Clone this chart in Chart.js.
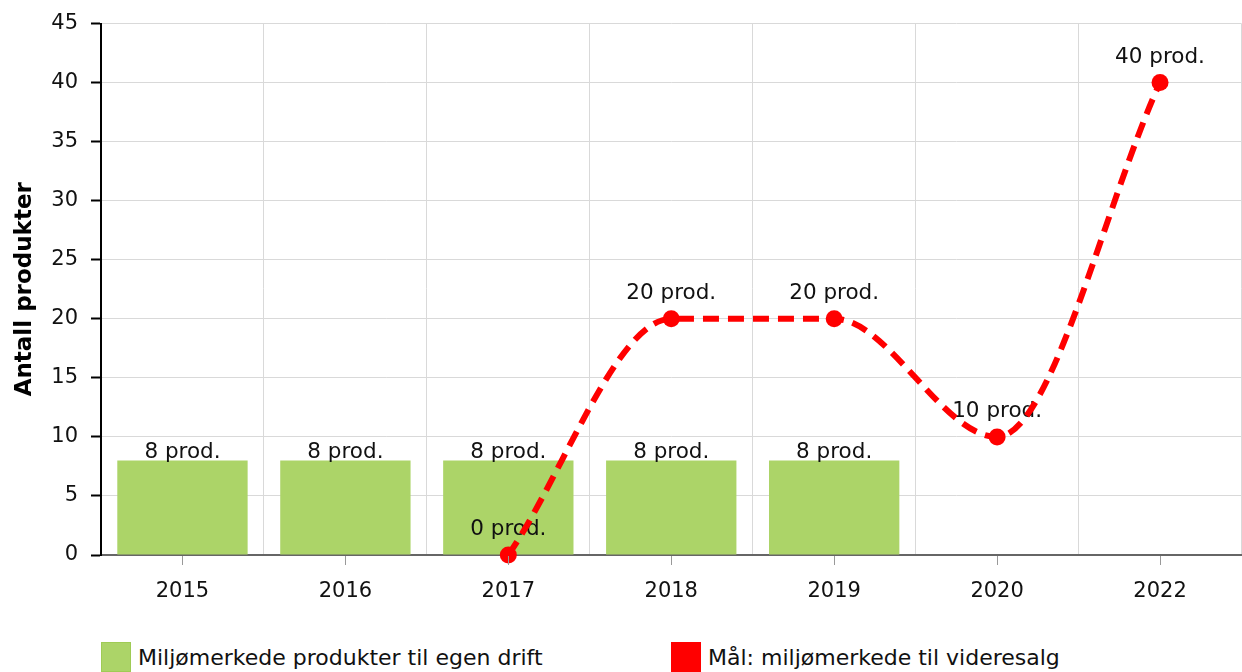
<!DOCTYPE html>
<html>
<head>
<meta charset="utf-8">
<script src="https://cdn.jsdelivr.net/npm/chart.js@4"></script>
<style>
  html, body { margin: 0; padding: 0; background: #fff; overflow: hidden; }
  #wrap { position: relative; width: 1250px; height: 672px; }
  #chart { position: absolute; left: 0; top: 0; }
  #legend { position: absolute; left: 101px; top: 642px; display: flex;
            font-family: 'DejaVu Sans', sans-serif; font-size: 22px; color: #111; }
  .item { display: flex; align-items: center; width: 570px; height: 30px; white-space: nowrap; }
  .box { width: 28px; height: 28px; margin-right: 7px; border: 1px solid; flex: none; }
</style>
</head>
<body>
<div id="wrap">
  <canvas id="chart" width="1250" height="620"></canvas>
  <div id="legend"></div>
</div>
<script>
// Data
const aar = ['2015', '2016', '2017', '2018', '2019', '2020', '2022'];
const egenDrift = [8, 8, 8, 8, 8, null, null];
const maalVideresalg = [null, null, 0, 20, 20, 10, 40];
const yTicks = [0, 5, 10, 15, 20, 25, 30, 35, 40, 45];

const fontFamily = "'DejaVu Sans', sans-serif";
Chart.defaults.font.family = fontFamily;
Chart.defaults.font.size = 21;
Chart.defaults.color = '#111';

// Tekst over søyler og punkter (tegnes etter søylene, før linja)
const etiketter = {
    id: 'etiketter',
    afterDatasetDraw(chart, args) {
        if (chart.data.datasets[args.index].type !== 'bar') return;
        const ctx = chart.ctx;
        ctx.save();
        ctx.font = '21.5px ' + fontFamily;
        ctx.fillStyle = '#111';
        ctx.textAlign = 'center';
        ctx.textBaseline = 'alphabetic';
        chart.data.datasets.forEach((ds, i) => {
            const meta = chart.getDatasetMeta(i);
            meta.data.forEach((el, j) => {
                const v = ds.data[j];
                if (v === null || v === undefined) return;
                const off = ds.type === 'line' ? 20 : 3;
                ctx.fillText(v + ' prod.', el.x, el.y - off);
            });
        });
        ctx.restore();
    }
};

// Små tick-streker midt under hver kategori
const xStreker = {
    id: 'xStreker',
    afterDraw(chart) {
        const x = chart.scales.x;
        const ctx = chart.ctx;
        ctx.save();
        ctx.strokeStyle = '#999';
        ctx.lineWidth = 1;
        aar.forEach((_, i) => {
            const px = Math.round(x.getPixelForValue(i)) + 0.5;
            ctx.beginPath();
            ctx.moveTo(px, x.top + 1);
            ctx.lineTo(px, x.top + 10);
            ctx.stroke();
        });
        ctx.restore();
    }
};

const chart = new Chart(document.getElementById('chart'), {
    data: {
        labels: aar,
        datasets: [
            {
                type: 'line',
                label: 'Mål: miljømerkede til videresalg',
                data: maalVideresalg,
                borderColor: '#ff0000',
                backgroundColor: '#ff0000',
                borderWidth: 6,
                borderDash: [16, 9],
                cubicInterpolationMode: 'monotone',
                pointRadius: 8.5,
                pointHoverRadius: 8.5,
                pointBorderWidth: 0,
                spanGaps: false,
                clip: false,
                order: 0
            },
            {
                type: 'bar',
                label: 'Miljømerkede produkter til egen drift',
                data: egenDrift,
                backgroundColor: '#acd468',
                legendBorder: '#9fcb55',
                barPercentage: 0.8,
                categoryPercentage: 1.0,
                order: 1
            }
        ]
    },
    options: {
        responsive: false,
        animation: false,
        layout: { padding: { top: 19, left: 0, right: 0, bottom: 0 } },
        plugins: {
            legend: { display: false },
            tooltip: { enabled: false }
        },
        scales: {
            x: {
                offset: true,
                grid: { offset: true, color: '#d9d9d9', drawTicks: false },
                border: { color: '#666', width: 2 },
                ticks: { padding: 24, color: '#111' },
                afterFit: (s) => { s.height = 65; }
            },
            y: {
                min: 0,
                max: 45,
                afterBuildTicks: (s) => { s.ticks = yTicks.map(v => ({ value: v })); },
                grid: { color: '#d9d9d9', tickColor: '#000', tickLength: 10, tickWidth: 2 },
                border: { color: '#000', width: 2 },
                ticks: { padding: 13, color: '#111', font: { size: 21, lineHeight: 1 } },
                title: {
                    display: true,
                    text: 'Antall produkter',
                    font: { size: 23, weight: 'bold' },
                    color: '#000',
                    padding: { top: 11, bottom: 0 }
                },
                afterFit: (s) => { s.width = 101; }
            }
        }
    },
    plugins: [etiketter, xStreker]
});

// Forklaring under grafen
const legend = document.getElementById('legend');
[1, 0].forEach(i => {
    const ds = chart.data.datasets[i];
    const item = document.createElement('div');
    item.className = 'item';
    const box = document.createElement('span');
    box.className = 'box';
    box.style.background = ds.backgroundColor;
    box.style.borderColor = ds.legendBorder || ds.backgroundColor;
    const txt = document.createElement('span');
    txt.textContent = ds.label;
    item.appendChild(box);
    item.appendChild(txt);
    legend.appendChild(item);
});
</script>
</body>
</html>
